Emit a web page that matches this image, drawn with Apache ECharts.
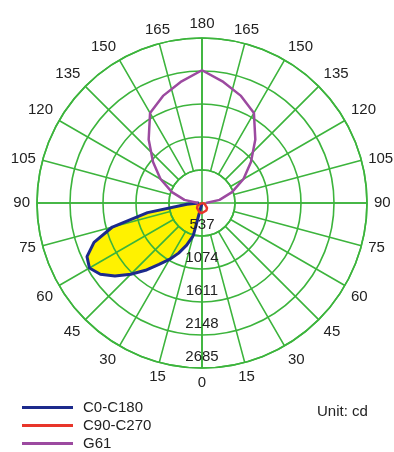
<!doctype html>
<html lang="en">
<head>
    <meta charset="UTF-8">
    <script src="https://cdn.jsdelivr.net/npm/echarts@6/dist/echarts.min.js"></script>
    <title>Polar light distribution</title>
    <style>
        html, body { margin: 0; padding: 0; background: #fff; }
    </style>
</head>
<body>
<div id="main" style="width: 394px;height:452px;"></div>
<script>
    // rings of the radius axis (cd)
    var ringValues = [537, 1074, 1611, 2148, 2685];

    // C0-C180, angle measured from nadir
    var c0Angles = [0, 5, 10, 15, 20, 25, 30, 35, 40, 45, 50, 55, 60, 65, 70, 75, 80, 85, 90];
    var c0Values = [0, 0, 20, 550, 730, 900, 1060, 1220, 1430, 1640, 1850, 2020, 2115, 2065, 1870, 1510, 900, 245, 50];

    // C90-C270
    var c90Angles = [270, 285, 300, 315, 330, 345, 0, 15, 30, 45, 60, 75, 90];
    var c90Values = [0, 42, 82, 115, 141, 157, 163, 157, 141, 115, 82, 42, 0];

    // G61
    var g61Angles = [90, 100, 110, 120, 130, 140, 150, 160, 170, 180, 190, 200, 210, 220, 230, 240, 250, 260, 270];
    var g61Values = [65, 290, 520, 780, 1040, 1350, 1690, 1855, 2000, 2160, 2000, 1855, 1690, 1350, 1040, 780, 520, 290, 65];

    function pairs(vals, angs) {
        var out = [];
        for (var i = 0; i < vals.length; i++) {
            out.push([vals[i], angs[i]]);
        }
        return out;
    }

    var green = '#3cb43c';
    var font = 'Liberation Sans, Arial, sans-serif';

    var myChart = echarts.init(document.getElementById('main'));
    var option = {
        animation: false,
        title: {
            text: 'Unit: cd',
            left: 317,
            top: 404,
            padding: 0,
            textStyle: {fontSize: 15, fontWeight: 'normal', color: '#222', fontFamily: font}
        },
        legend: {
            data: ['C0-C180', 'C90-C270', 'G61'],
            orient: 'vertical',
            left: 22,
            top: 400,
            padding: 0,
            icon: 'rect',
            itemWidth: 51,
            itemHeight: 3,
            itemGap: 3,
            textStyle: {fontSize: 15, color: '#222', fontFamily: font, lineHeight: 15, padding: [0, 0, 0, 5]}
        },
        polar: [
            {center: [202, 203], radius: 165},
            {center: [202, 203], radius: [33, 165]}
        ],
        angleAxis: [
            {
                polarIndex: 0,
                type: 'value',
                min: 0,
                max: 360,
                interval: 90,
                startAngle: 270,
                clockwise: true,
                z: 3,
                axisLine: {show: false},
                axisTick: {show: false},
                axisLabel: {show: false},
                splitLine: {show: true, lineStyle: {color: green, width: 1.6}}
            },
            {
                polarIndex: 1,
                type: 'value',
                min: 0,
                max: 360,
                interval: 15,
                startAngle: 270,
                clockwise: true,
                z: 3,
                axisLine: {show: true, lineStyle: {color: green, width: 1.6}},
                axisTick: {show: false},
                axisLabel: {
                    show: true,
                    margin: 7,
                    showMaxLabel: false,
                    color: '#222',
                    fontSize: 15,
                    fontFamily: font,
                    formatter: function (v) {
                        return v > 180 ? String(360 - v) : String(v);
                    }
                },
                splitLine: {show: true, lineStyle: {color: green, width: 1.6}}
            }
        ],
        radiusAxis: [
            {
                polarIndex: 0,
                type: 'value',
                min: 0,
                max: ringValues[ringValues.length - 1],
                interval: ringValues[0],
                z: 3,
                axisLine: {show: false},
                axisTick: {show: false},
                axisLabel: {show: false},
                splitLine: {show: true, lineStyle: {color: green, width: 1.6}}
            },
            {
                polarIndex: 1,
                type: 'value',
                min: 0,
                max: 1,
                axisLine: {show: false},
                axisTick: {show: false},
                axisLabel: {show: false},
                splitLine: {show: false}
            }
        ],
        series: [
            { // yellow fill under the grid
                name: 'C0-C180 fill',
                type: 'line',
                coordinateSystem: 'polar',
                polarIndex: 0,
                data: pairs(c0Values, c0Angles),
                symbol: 'none',
                z: 1,
                lineStyle: {width: 0, opacity: 0},
                areaStyle: {color: '#fff200', opacity: 1},
                silent: true
            },
            {
                name: 'C0-C180',
                type: 'line',
                coordinateSystem: 'polar',
                polarIndex: 0,
                data: pairs(c0Values, c0Angles),
                symbol: 'none',
                z: 5,
                color: '#1c2a8c',
                lineStyle: {color: '#1c2a8c', width: 3}
            },
            {
                name: 'G61',
                type: 'line',
                coordinateSystem: 'polar',
                polarIndex: 0,
                data: pairs(g61Values, g61Angles),
                symbol: 'none',
                z: 5,
                color: '#9c4aa0',
                lineStyle: {color: '#9c4aa0', width: 2.5}
            },
            {
                name: 'C90-C270',
                type: 'line',
                coordinateSystem: 'polar',
                polarIndex: 0,
                data: pairs(c90Values, c90Angles),
                symbol: 'none',
                z: 6,
                color: '#e8352a',
                lineStyle: {color: '#e8352a', width: 2.5}
            },
            { // ring value labels along the nadir line
                name: 'rings',
                type: 'scatter',
                coordinateSystem: 'polar',
                polarIndex: 0,
                symbolSize: 0,
                z: 7,
                silent: true,
                itemStyle: {opacity: 1},
                data: ringValues.map(function (v) { return [v, 0]; }),
                label: {
                    show: true,
                    position: 'inside',
                    offset: [0, -11],
                    color: '#222',
                    fontSize: 15,
                    fontFamily: font,
                    formatter: function (p) { return String(p.value[0]); }
                }
            }
        ]
    };
    myChart.setOption(option);
</script>
</body>
</html>
